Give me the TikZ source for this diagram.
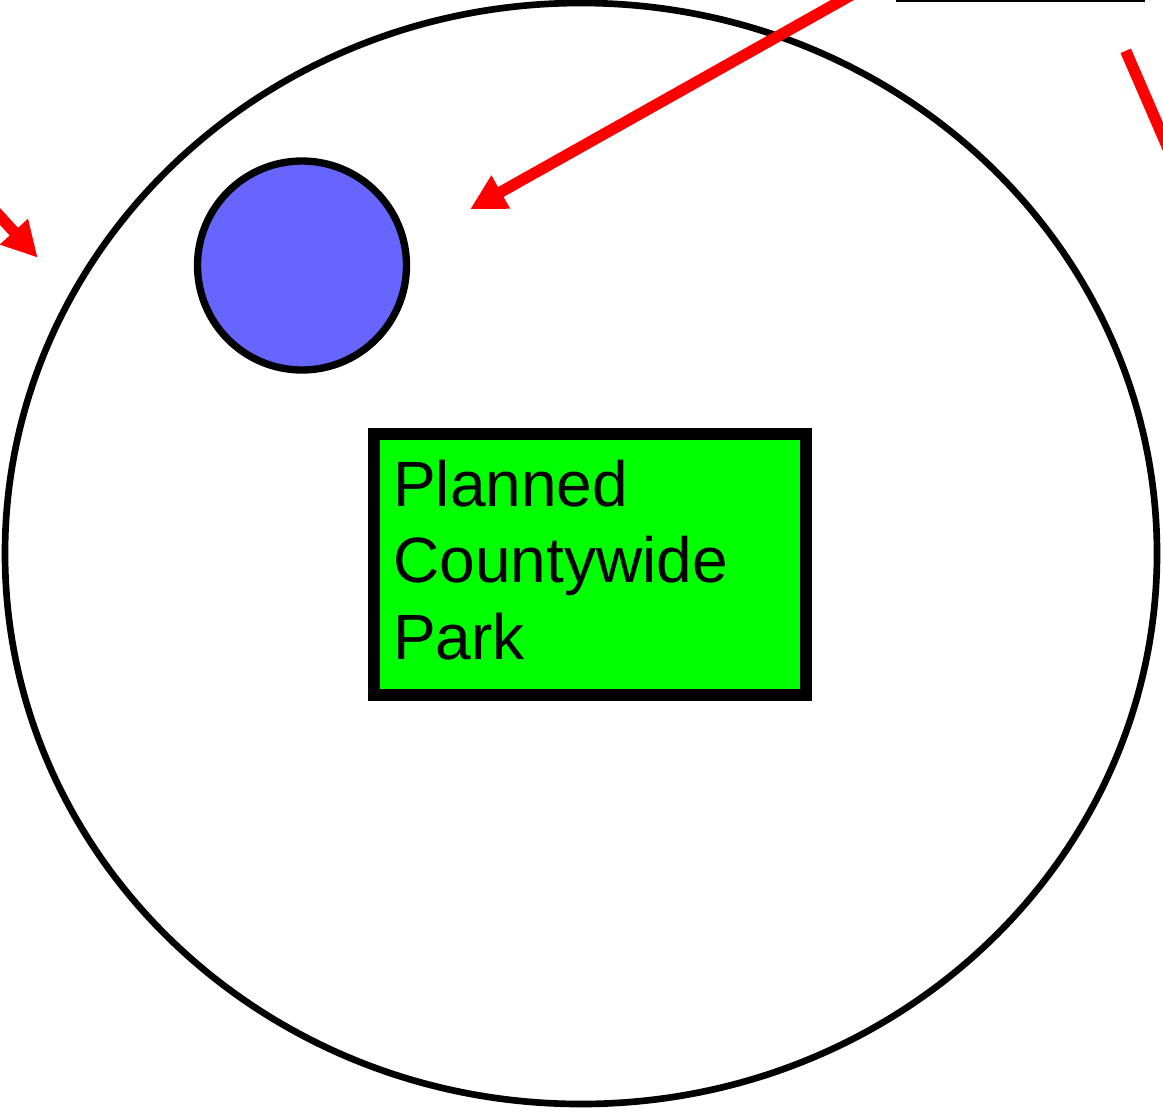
\documentclass[tikz,border=0pt]{standalone}
\usepackage{fontspec}
\setmainfont{Liberation Sans}
\usetikzlibrary{shapes.geometric,arrows.meta}
\definecolor{parkgreen}{HTML}{00FF00}
\definecolor{pondblue}{HTML}{6666FF}
\definecolor{arrowred}{HTML}{FF0000}
\begin{document}
\begin{tikzpicture}[x=0.75pt,y=-0.75pt,
  regionstyle/.style={draw=black, line width=5pt, ellipse, inner sep=0pt, outer sep=0pt,
    minimum width=864pt, minimum height=825.75pt},
  pondstyle/.style={draw=black, fill=pondblue, line width=5.5pt, circle, inner sep=0pt, outer sep=0pt,
    minimum size=156.75pt},
  parkstyle/.style={draw=black, fill=parkgreen, line width=9pt, rectangle, inner sep=0pt, outer sep=0pt,
    minimum width=324pt, minimum height=195.75pt, anchor=north west},
  labelstyle/.style={anchor=base west, inner sep=0pt, text width=300pt, align=left,
    font=\fontsize{48}{57.5}\selectfont},
  redarrow/.style={draw=arrowred, line width=8.5pt, -{Triangle[length=26.5pt,width=26.7pt]}},
  redline/.style={draw=arrowred, line width=8.5pt},
]
\useasboundingbox (0,0) rectangle (1163,1111);
\clip (0,0) rectangle (1163,1111);
\node[regionstyle] (region) at (581,553.5) {};
\node[pondstyle] (pond) at (302,265.5) {};
\node[parkstyle] (park) at (374,434) {};
\node[labelstyle] (parklabel) at (393,506) {Planned\\Countywide\\Park};
\coordinate (a1s) at (862,-11);
\coordinate (a1e) at (470,209.3);
\coordinate (a2s) at (-63.5,147);
\coordinate (a2e) at (37.7,257.7);
\coordinate (a3s) at (1125.7,50.8);
\coordinate (a3e) at (1245,326);
\coordinate (ls) at (896,0);
\coordinate (le) at (1145,0);
\draw[redarrow] (a1s) -- (a1e);
\draw[redarrow] (a2s) -- (a2e);
\draw[redline] (a3s) -- (a3e);
\draw[black, line width=2.25pt] (ls) -- (le);
\end{tikzpicture}
\end{document}
